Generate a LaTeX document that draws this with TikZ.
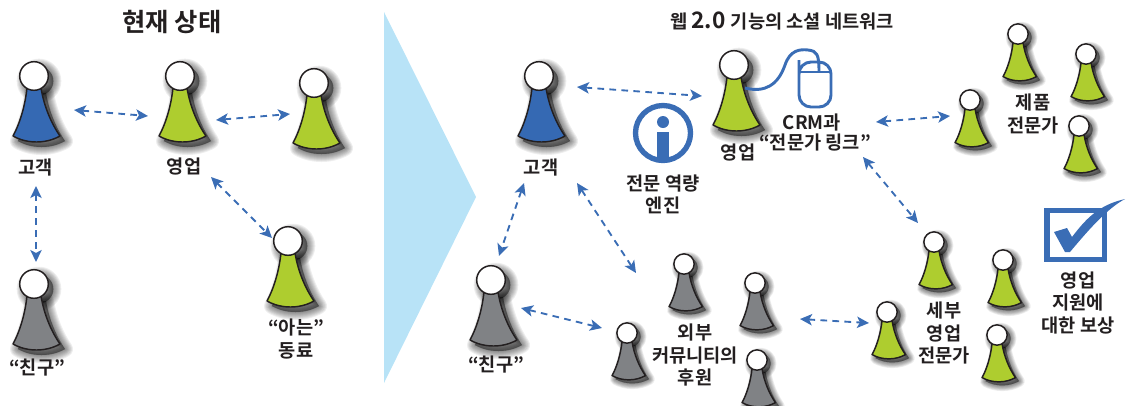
\documentclass[tikz,border=0pt]{standalone}
\usepackage{fontspec}
\setmainfont{Noto Sans CJK KR}[BoldFont={Noto Sans CJK KR Bold}]
\usetikzlibrary{arrows.meta}
\definecolor{pblue}{HTML}{3569B3}
\definecolor{pgreen}{HTML}{AECD2F}
\definecolor{pgray}{HTML}{808285}
\definecolor{linkblue}{HTML}{3A6DB5}
\definecolor{wedge}{HTML}{B8E3F7}
\definecolor{ink}{HTML}{231F20}
\newcommand{\pawnbody}{(-7,12) .. controls (-9,30) and (-14,47) .. (-21,60) .. controls (-7,68) and (12,68) .. (26,60) .. controls (17,47) and (10,30) .. (7,12) -- cycle}
\newcommand{\pawnat}[4]{%
  \begin{scope}[shift={(#1,#2)},scale=#3]
    \foreach \w in {12,10.5,9,7.5,6,4.5,3,1.5,.5}{
      \pgfmathsetmacro{\lw}{\w*#3}
      \begin{scope}[shift={(5,5)},opacity=.065,line width=\lw pt,draw=black,fill=black,line join=round]
        \filldraw \pawnbody;
        \filldraw (0,0) circle (14.3);
      \end{scope}
    }
    \filldraw[fill=#4,draw=ink,line width=1.1pt,line join=round] \pawnbody;
    \filldraw[fill=white,draw=ink,line width=1.1pt] (0,0) circle (14.3);
  \end{scope}}
\tikzset{
  link/.style={draw=linkblue,line width=1.4pt,dash pattern=on 5pt off 4pt,
    {Stealth[length=9pt,width=8.5pt,inset=2.2pt]}-{Stealth[length=9pt,width=8.5pt,inset=2.2pt]}},
  lab/.style={font=\bfseries\fontsize{14}{16.6}\selectfont,text=ink,align=center,inner sep=0pt},
  bigtitle/.style={font=\bfseries\fontsize{19}{22}\selectfont,text=ink,inner sep=0pt},
  subtitle/.style={font=\bfseries\fontsize{14}{16}\selectfont,text=ink,inner sep=0pt},
  iconline/.style={draw=linkblue,line width=2.2pt},
}
\begin{document}
\begin{tikzpicture}[x=0.75pt,y=-0.75pt]
\useasboundingbox (0,0) rectangle (1130,405);
\fill[wedge] (384,12) -- (476,197) -- (384,383) -- cycle;

% left side pawns
\pawnat{34}{76}{1}{pblue}
\pawnat{180}{76}{1}{pgreen}
\pawnat{314}{83}{1}{pgreen}
\pawnat{288}{241}{1}{pgreen}
\pawnat{34}{284}{1}{pgray}
% right side pawns
\pawnat{539}{76}{1}{pblue}
\pawnat{491}{280}{1}{pgray}
\pawnat{734}{65}{1}{pgreen}
\pawnat{1018}{34}{.71}{pgreen}
\pawnat{1086}{54}{.71}{pgreen}
\pawnat{970}{100}{.71}{pgreen}
\pawnat{1079}{126}{.71}{pgreen}
\pawnat{934}{242}{.71}{pgreen}
\pawnat{1003}{260}{.71}{pgreen}
\pawnat{887}{312}{.71}{pgreen}
\pawnat{997}{335}{.71}{pgreen}
\pawnat{684}{264}{.71}{pgray}
\pawnat{755}{283}{.71}{pgray}
\pawnat{627}{333}{.71}{pgray}
\pawnat{757}{360}{.71}{pgray}

% connector ends
\coordinate (a1) at (74,110);  \coordinate (a2) at (148,116);
\coordinate (b1) at (216,120); \coordinate (b2) at (290,114);
\coordinate (c1) at (36,186);  \coordinate (c2) at (36,262);
\coordinate (d1) at (211,177); \coordinate (d2) at (272,238);
\coordinate (e1) at (577,87);  \coordinate (e2) at (702,96);
\coordinate (f1) at (524,183); \coordinate (f2) at (499,256);
\coordinate (g1) at (577,183); \coordinate (g2) at (636,273);
\coordinate (h1) at (521,308); \coordinate (h2) at (602,328);
\coordinate (i1) at (800,319); \coordinate (i2) at (869,323);
\coordinate (j1) at (876,122); \coordinate (j2) at (950,116);
\coordinate (k1) at (863,157); \coordinate (k2) at (918,223);
\foreach \p/\q in {a1/a2,b1/b2,c1/c2,d1/d2,e1/e2,f1/f2,g1/g2,h1/h2,i1/i2,j1/j2,k1/k2}
  \draw[link] (\p) -- (\q);

% mouse
\draw[iconline,rounded corners=9pt] (799,72) -- (799,62) -- (831,62) -- (831,107) -- (799,107) -- cycle;
\draw[iconline] (799,72) -- (831,72);
\coordinate (cableA) at (745,88);
\coordinate (cableB) at (819,72);
\draw[iconline] (cableA) .. controls (765,93) and (778,85) .. (785,65)
  .. controls (790,50) and (800,49) .. (808,50)
  .. controls (817,51) and (819,54) .. (cableB);

% info icon
\draw[draw=linkblue,line width=4pt] (663,133) circle (27.5);
\fill[linkblue] (663,122) circle (6);
\fill[linkblue] (657,132) rectangle (669,158);

% checkbox
\draw[draw=linkblue,line width=4pt] (1047,210.5) rectangle (1104.5,259.5);
\fill[linkblue] (1054,232) -- (1067,228) -- (1072,237) .. controls (1085,220) and (1098,205) .. (1125,199)
  .. controls (1108,208) and (1090,228) .. (1070,252) -- (1065,252) -- cycle;

% titles
\node[bigtitle] (t1) at (172,22) {현재 상태};
\node[subtitle] (t2) at (782,21) {웹 \fontsize{17}{16}\selectfont 2.0 \fontsize{14}{16}\selectfont 기능의 소셜 네트워크};

% labels
\node[lab] (l1) at (36,167) {고객};
\node[lab] (l2) at (184,167) {영업};
\node[lab] (l3) at (296,339) {“아는”\\동료};
\node[lab] (l4) at (37,368) {“친구”};
\node[lab] (l5) at (541,167) {고객};
\node[lab] (l6) at (496,365) {“친구”};
\node[lab] (l7) at (738,153) {영업};
\node[lab] (l8) at (812,122) {CRM과};
\node[lab] (l9) at (815,143) {“전문가 링크”};
\node[lab] (l10) at (663,194) {전문 역량\\엔진};
\node[lab] (l11) at (1033,114) {제품\\전문가};
\node[lab] (l12) at (944,333) {세부\\영업\\전문가};
\node[lab] (l13) at (1078,303) {영업\\지원에\\대한 보상};
\node[lab] (l14) at (695,355) {외부\\커뮤니티의\\후원};
\end{tikzpicture}
\end{document}
